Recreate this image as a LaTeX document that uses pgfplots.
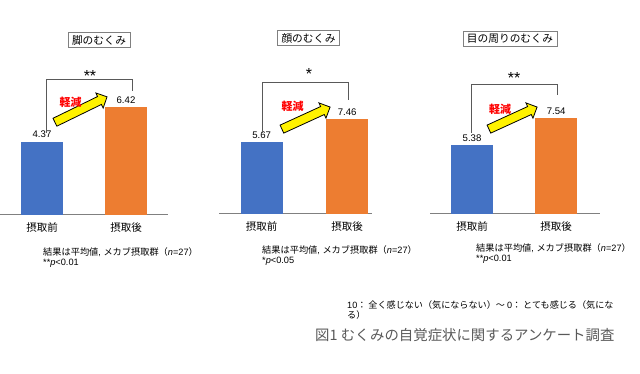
\documentclass[border=0pt]{standalone}
\usepackage{pgfplots}
\pgfplotsset{compat=1.18}
\usepackage{fontspec}
\setmainfont{Noto Sans CJK JP}
\newfontfamily\arial{Liberation Sans}
\usetikzlibrary{shapes.arrows}
\definecolor{cblue}{HTML}{4472C4}
\definecolor{corange}{HTML}{ED7D31}
\definecolor{axgray}{HTML}{808080}
\definecolor{brgray}{HTML}{595959}
\pgfplotsset{panel/.style={
  scale only axis, ymin=0, ymax=10, xmin=-0.5,
  axis x line=bottom, axis y line=none,
  axis line style={axgray, line width=1pt, -},
  xtick={0,1}, xticklabels={摂取前,摂取後}, major tick length=0pt,
  xticklabel style={font=\fontsize{10.5}{10.5}\selectfont, text=black, yshift=-4.5pt},
  ybar, bar width=42pt, clip=false,
  nodes near coords,
  every node near coord/.append style={font=\arial\fontsize{9.6}{9.6}\selectfont, text=black},
  /pgf/number format/fixed, /pgf/number format/fixed zerofill,
  /pgf/number format/precision=2, /pgf/number format/assume math mode=true,
}}
\begin{document}
\begin{tikzpicture}
\path[use as bounding box] (0pt,0pt) rectangle (640pt,374pt);
% panel 1
\begin{axis}[panel, at={(0pt,159pt)}, anchor=south west, width=168pt, height=168pt, xmax=1.5]
\addplot[fill=cblue, draw=none, bar shift=0pt] coordinates {(0,4.37)};
\addplot[fill=corange, draw=none, bar shift=0pt] coordinates {(1,6.42)};
\end{axis}
% panel 2
\begin{axis}[panel, at={(219pt,160pt)}, anchor=south west, width=153pt, height=127.5pt, xmax=1.29]
\addplot[fill=cblue, draw=none, bar shift=0pt] coordinates {(0,5.67)};
\addplot[fill=corange, draw=none, bar shift=0pt] coordinates {(1,7.46)};
\end{axis}
% panel 3
\begin{axis}[panel, at={(430pt,160pt)}, anchor=south west, width=170pt, height=127.5pt, xmax=1.52]
\addplot[fill=cblue, draw=none, bar shift=0pt] coordinates {(0,5.38)};
\addplot[fill=corange, draw=none, bar shift=0pt] coordinates {(1,7.54)};
\end{axis}
\begin{scope}[x=1pt,y=1pt]
% titles
\tikzset{ttl/.style={draw=axgray, line width=0.7pt, inner xsep=4pt, inner ysep=2.5pt, minimum height=15pt, font=\fontsize{10.7}{10.7}\selectfont}}
\node[ttl] at (99,334) {脚のむくみ};
\node[ttl] at (308.5,336) {顔のむくみ};
\node[ttl] at (510,335) {目の周りのむくみ};
% brackets
\draw[brgray, line width=1pt] (46,241) -- (46,294) -- (132,294) -- (132,283);
\draw[brgray, line width=1pt] (262,241) -- (262,291) -- (348,291) -- (348,274);
\draw[brgray, line width=1pt] (471,241) -- (471,289) -- (557,289) -- (557,279);
\tikzset{ast/.style={font=\arial\fontsize{16}{16}\selectfont}}
\node[ast] at (90,297.5) {**};
\node[ast] at (309,299.5) {*};
\node[ast] at (514,295.5) {**};
% arrows
\tikzset{farrow/.style={single arrow, draw=black, fill=yellow, line width=0.8pt, inner sep=4pt, single arrow head extend=4pt}}
\node[farrow, minimum height=58pt, rotate=26] at (79,263.5) {};
\node[farrow, minimum height=53pt, rotate=24.6] at (304,255) {};
\node[farrow, minimum height=53pt, rotate=24.6] at (511,255) {};
\tikzset{kg/.style={text=red, font=\fontsize{11}{11}\selectfont\bfseries}}
\node[kg] at (70.5,272) {軽減};
\node[kg] at (292.5,268) {軽減};
\node[kg] at (500,265) {軽減};
% notes
\tikzset{nt/.style={anchor=west, inner sep=0pt, font=\fontsize{9.2}{9.2}\selectfont}}
\node[nt] at (43,122) {結果は平均値{\arial, }メカブ摂取群（{\arial\itshape n}{\arial =27}）};
\node[nt] at (43,111) {\arial **{\itshape p}<0.01};
\node[nt] at (262,124) {結果は平均値{\arial, }メカブ摂取群（{\arial\itshape n}{\arial =27}）};
\node[nt] at (262,113) {\arial *{\itshape p}<0.05};
\node[nt] at (476,126) {結果は平均値{\arial, }メカブ摂取群（{\arial\itshape n}{\arial =27}）};
\node[nt] at (476,115) {\arial **{\itshape p}<0.01};
\node[anchor=west, inner sep=0pt, font=\fontsize{9.1}{9.1}\selectfont] at (347,69) {{\arial 10}： 全く感じない（気にならない）～ {\arial 0}： とても感じる（気にな};
\node[anchor=west, inner sep=0pt, font=\fontsize{9.1}{9.1}\selectfont] at (347,59) {る）};
\node[anchor=west, inner sep=0pt, text=brgray, font=\fontsize{14.4}{14.4}\selectfont] at (315,39) {図1 むくみの自覚症状に関するアンケート調査};
\end{scope}
\end{tikzpicture}
\end{document}
